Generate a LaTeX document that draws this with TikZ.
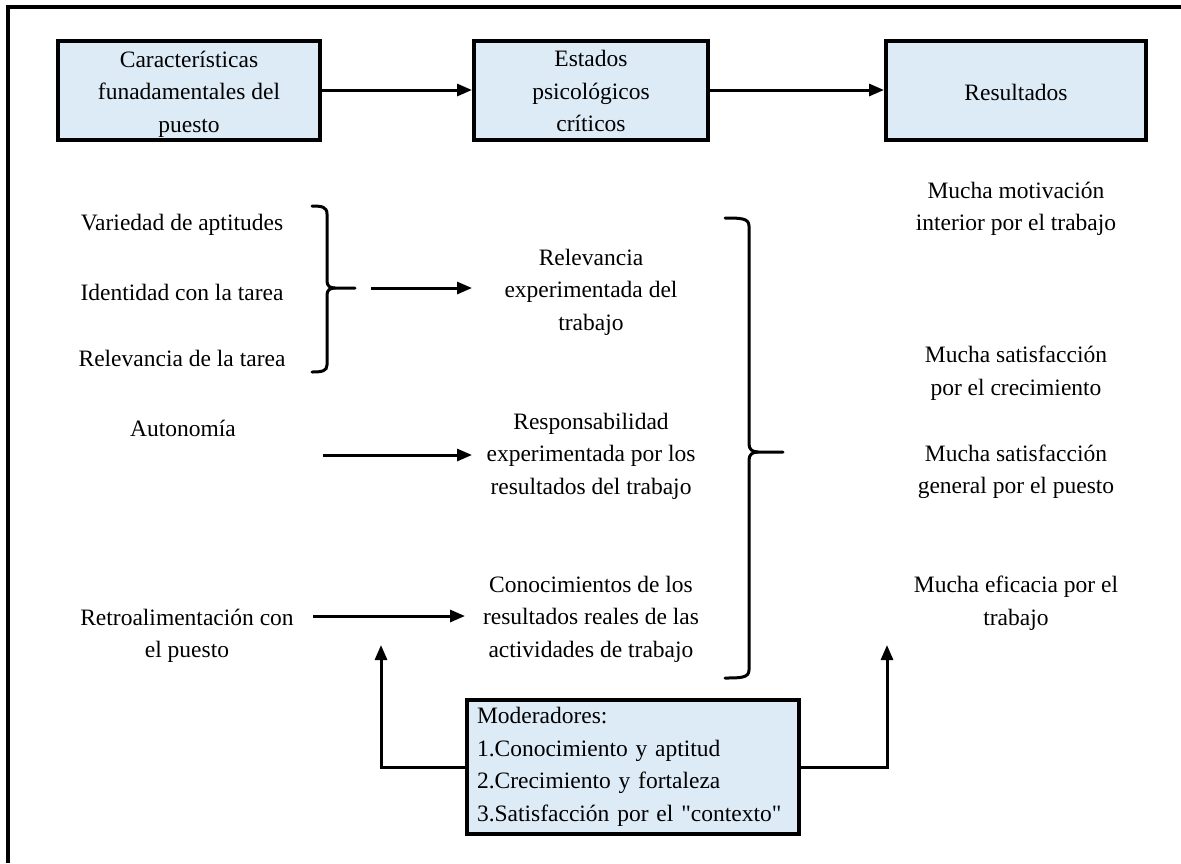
\documentclass[tikz,border=0pt]{standalone}
\usepackage{fontspec}
\setmainfont{Liberation Serif}
\newfontfamily\qfont{Liberation Serif}[Ligatures=TeXOff]
\usetikzlibrary{arrows.meta}
\definecolor{boxblue}{RGB}{221,235,247}
\begin{document}
\begin{tikzpicture}[x=1pt,y=-1pt,
  every node/.style={font=\fontsize{23.5}{32.5}\selectfont, inner sep=0pt},
  hbox/.style={draw, line width=4pt, fill=boxblue, minimum width=262pt, minimum height=99pt},
  htext/.style={align=center, yshift=-4pt},
  txt/.style={align=center, yshift=-3pt},
  conn/.style={line width=3pt, -{Triangle[length=15pt,width=12pt]}},
  brace/.style={line width=3pt, line cap=round}
]
\useasboundingbox (0,0) rectangle (1181,863);
\draw[line width=4pt] (8,863) -- (8,7) -- (1181,7);

% header boxes
\node[hbox] (b1) at (189,90) {};
\node[hbox, minimum width=234pt] (b2) at (591,90) {};
\node[hbox, minimum width=260pt] (b3) at (1016,90) {};
\node[htext] (t1) at (b1) {Características\\funadamentales del\\puesto};
\node[htext, yshift=3pt] (t2) at (b2) {Estados\\psicológicos\\críticos};
\node[htext, yshift=2pt] (t3) at (b3) {Resultados};
\draw[conn] (b1.east) -- (b2.west);
\draw[conn] (b2.east) -- (b3.west);

% left column
\node[txt] (v1) at (182,222) {Variedad de aptitudes};
\node[txt] (v2) at (182,289) {Identidad con la tarea};
\node[txt] (v3) at (182,355) {Relevancia de la tarea};
\node[txt] (aut) at (183,425) {Autonomía};
\node[txt] (retro) at (187,633) {Retroalimentación con\\el puesto};

% middle column
\node[txt] (m1) at (591,289) {Relevancia\\experimentada del\\trabajo};
\node[txt] (m2) at (591,453) {Responsabilidad\\experimentada por los\\resultados del trabajo};
\node[txt] (m3) at (591,616) {Conocimientos de los\\resultados reales de las\\actividades de trabajo};

% right column
\node[txt] (r1) at (1016,206) {Mucha motivación\\interior por el trabajo};
\node[txt] (r2) at (1016,370) {Mucha satisfacción\\por el crecimiento};
\node[txt] (r3) at (1016,469) {Mucha satisfacción\\general por el puesto};
\node[txt] (r4) at (1016,600) {Mucha eficacia por el\\trabajo};

% brace 1
\draw[brace] (312,206) .. controls (322,206) and (327,207) .. (327,214) -- (327,281)
  .. controls (327,286) and (330,288) .. (335,288) -- (355,288);
\draw[brace] (335,288) .. controls (330,288) and (327,290) .. (327,295) -- (327,365)
  .. controls (327,371) and (322,372) .. (312,372);

% brace 2
\draw[brace] (725,218) .. controls (740,218) and (749,218) .. (749,226) -- (749,444)
  .. controls (749,449) and (752,452) .. (758,452) -- (783,452);
\draw[brace] (758,452) .. controls (752,452) and (749,455) .. (749,460) -- (749,670)
  .. controls (749,678) and (740,678) .. (725,678);

% arrows into middle column
\coordinate (a1s) at (371,288);
\coordinate (a1e) at (472,288);
\coordinate (a2s) at (323,455);
\coordinate (a2e) at (472,455);
\coordinate (a3s) at (313,616);
\coordinate (a3e) at (465,616);
\draw[conn] (a1s) -- (a1e);
\draw[conn] (a2s) -- (a2e);
\draw[conn] (a3s) -- (a3e);

% moderators
\node[draw, line width=4pt, fill=boxblue, text width=312pt, inner xsep=10pt, inner ysep=3pt,
  minimum height=134pt, align=left] (mod) at (633,767)
  {Moderadores:\\1.Conocimiento y aptitud\\2.Crecimiento y fortaleza\\3.Satisfacción por el {\qfont"}contexto{\qfont"}};
\coordinate (ml) at (381,645);
\coordinate (mr) at (887,645);
\draw[conn] (mod.west) -| (ml);
\draw[conn] (mod.east) -| (mr);
\end{tikzpicture}
\end{document}
